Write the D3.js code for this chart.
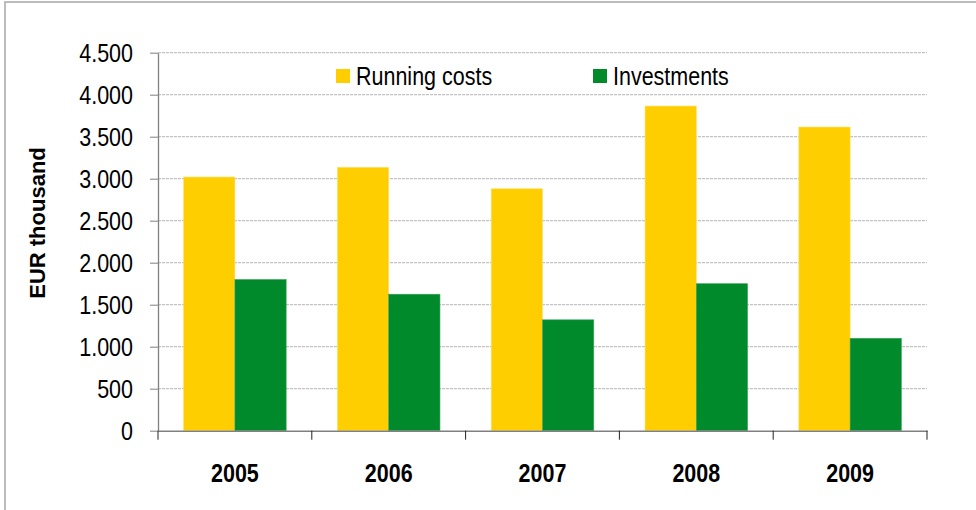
<!DOCTYPE html>
<html>
<head>
<meta charset="utf-8">
<script src="https://cdn.jsdelivr.net/npm/d3@7"></script>
<style>
  html, body { margin: 0; padding: 0; background: #fff; }
  svg { display: block; }
  text { font-family: "Liberation Sans", Arial, sans-serif; fill: #000; }
</style>
</head>
<body>
<svg id="chart" width="976" height="510"></svg>
<script>
// Annual spending, EUR thousand
const years = ["2005", "2006", "2007", "2008", "2009"];
const seriesNames = ["Running costs", "Investments"];
const runningCosts = [3020, 3135, 2880, 3865, 3615];
const investments = [1800, 1625, 1320, 1750, 1100];
const yTicks = [0, 500, 1000, 1500, 2000, 2500, 3000, 3500, 4000, 4500];
const colors = ["#FFCE00", "#008A2C"];

const fmt = v => d3.format(",")(v).replace(/,/g, ".");
const seriesValues = [runningCosts, investments];

const svg = d3.select("#chart");
const plot = { left: 158, right: 927, top: 52.7, bottom: 430.7 };
const sx = 0.86; // horizontal squeeze of the lettering
const fs = 25;

// outer frame
svg.append("rect")
  .attr("x", 5).attr("y", 2)
  .attr("width", 990).attr("height", 540)
  .attr("fill", "none").attr("stroke", "#a6a6a6").attr("stroke-width", 1.5);

const x0 = d3.scaleBand().domain(years).range([plot.left, plot.right]).padding(0);
const x1 = d3.scaleBand().domain(seriesNames)
  .range([x0.bandwidth() / 6, x0.bandwidth() * 5 / 6]).padding(0);
const y = d3.scaleLinear().domain([0, 4500]).range([plot.bottom, plot.top]);

// gridlines
svg.append("g")
  .selectAll("line")
  .data(yTicks.filter(t => t > 0))
  .join("line")
  .attr("x1", plot.left).attr("x2", plot.right)
  .attr("y1", d => y(d)).attr("y2", d => y(d))
  .attr("stroke", "#b4b4b4").attr("stroke-width", 1)
  .attr("stroke-dasharray", "3,1");

// bars
const groups = svg.append("g")
  .selectAll("g")
  .data(years)
  .join("g")
  .attr("transform", d => `translate(${x0(d)},0)`);

groups.selectAll("rect")
  .data((d, i) => seriesNames.map((s, j) => ({ s, j, v: seriesValues[j][i] })))
  .join("rect")
  .attr("x", d => x1(d.s))
  .attr("width", x1.bandwidth())
  .attr("y", d => y(d.v))
  .attr("height", d => y(0) - y(d.v))
  .attr("fill", d => colors[d.j])
  .attr("stroke", d => d.j === 0 ? "#FFE066" : "#3aa35a")
  .attr("stroke-width", 0.6);

// y axis
const yAxis = svg.append("g").attr("transform", `translate(${plot.left},0)`)
  .call(d3.axisLeft(y).tickValues(yTicks).tickSize(8).tickSizeOuter(0).tickFormat(fmt));
yAxis.select(".domain").attr("stroke", "#808080").attr("stroke-width", 1.3);
yAxis.selectAll(".tick line").attr("stroke", "#808080").attr("stroke-width", 1);
yAxis.selectAll(".tick text").remove();
yAxis.selectAll(".tick").append("text")
  .attr("transform", `translate(-25,0) scale(${sx},1)`)
  .attr("text-anchor", "end")
  .attr("dy", "0.36em")
  .attr("font-size", fs)
  .text(d => fmt(d));

// x axis
const xAxis = svg.append("g").attr("transform", `translate(0,${plot.bottom})`)
  .call(d3.axisBottom(x0).tickSize(0).tickFormat(""));
xAxis.select(".domain").attr("stroke", "#808080").attr("stroke-width", 1.5);
xAxis.selectAll(".tick").remove();
const bounds = years.map(d => x0(d)).concat([x0(years[years.length - 1]) + x0.step()]);
xAxis.append("g").selectAll("line")
  .data(bounds)
  .join("line")
  .attr("x1", d => d).attr("x2", d => d)
  .attr("y1", 0).attr("y2", 9)
  .attr("stroke", "#222").attr("stroke-width", 1);
xAxis.append("g").selectAll("text")
  .data(years)
  .join("text")
  .attr("transform", d => `translate(${x0(d) + x0.bandwidth() / 2},51.5) scale(${sx},1)`)
  .attr("text-anchor", "middle")
  .attr("font-size", fs)
  .attr("font-weight", "bold")
  .text(d => d);

// y axis title
svg.append("text")
  .attr("transform", "translate(45,223) rotate(-90)")
  .attr("text-anchor", "middle")
  .attr("font-size", 22)
  .attr("font-weight", "bold")
  .text("EUR thousand");

// legend
const legendX = [336, 593];
const legend = svg.append("g").selectAll("g")
  .data(seriesNames)
  .join("g")
  .attr("transform", (d, i) => `translate(${legendX[i]},69)`);
legend.append("rect")
  .attr("width", 14).attr("height", 14)
  .attr("fill", (d, i) => colors[i]);
legend.append("text")
  .attr("transform", `translate(20,16) scale(${sx},1)`)
  .attr("font-size", fs)
  .text(d => d);
</script>
</body>
</html>
